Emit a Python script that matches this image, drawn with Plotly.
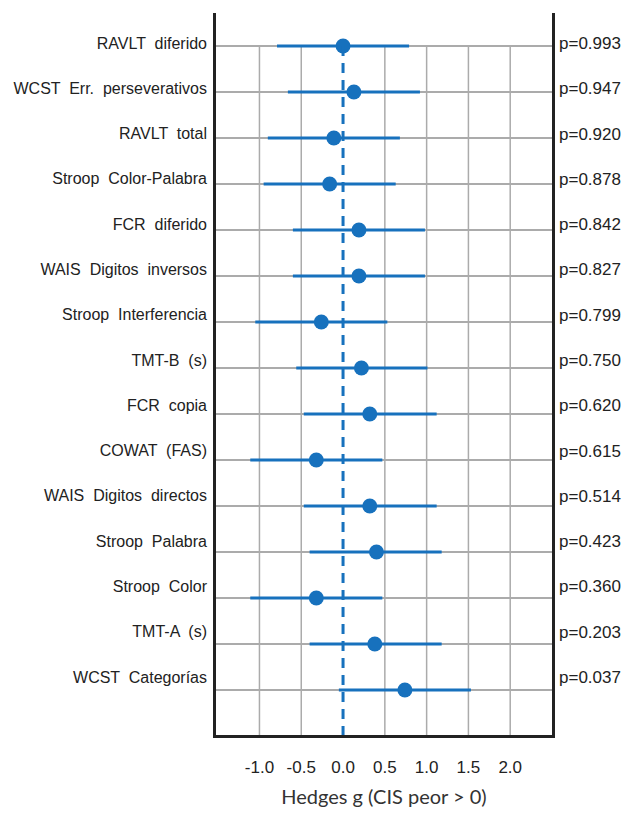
import plotly.graph_objects as go

# ---------------- data ----------------
tests = ["RAVLT  diferido", "WCST  Err.  perseverativos", "RAVLT  total",
         "Stroop  Color-Palabra", "FCR  diferido", "WAIS  Digitos  inversos",
         "Stroop  Interferencia", "TMT-B  (s)", "FCR  copia", "COWAT  (FAS)",
         "WAIS  Digitos  directos", "Stroop  Palabra", "Stroop  Color",
         "TMT-A  (s)", "WCST  Categorías"]
g_est = [0.00, 0.13, -0.11, -0.16, 0.19, 0.19, -0.26, 0.22, 0.32, -0.32,
         0.32, 0.40, -0.32, 0.38, 0.74]
ci_low = [-0.79, -0.66, -0.90, -0.95, -0.60, -0.60, -1.05, -0.56, -0.47, -1.11,
          -0.47, -0.40, -1.11, -0.40, -0.05]
ci_high = [0.79, 0.92, 0.68, 0.63, 0.98, 0.98, 0.53, 1.01, 1.12, 0.47,
           1.12, 1.18, 0.47, 1.18, 1.53]
p_vals = ["p=0.993", "p=0.947", "p=0.920", "p=0.878", "p=0.842", "p=0.827",
          "p=0.799", "p=0.750", "p=0.620", "p=0.615", "p=0.514", "p=0.423",
          "p=0.360", "p=0.203", "p=0.037"]
x_ticks = [-1.0, -0.5, 0.0, 0.5, 1.0, 1.5, 2.0]
x_ticktext = ["-1.0", "-0.5", "0.0", "0.5", "1.0", "1.5", "2.0"]

# ---------------- styles ----------------
BLUE = "#1771bd"
GRID = "#ababab"
SPINE = "#222222"
TXT = "Liberation Sans, Arial, sans-serif"

rows = list(range(len(tests)))
X_RANGE = [-1.52, 2.50]
Y_RANGE = [14.98, -0.718]       # main axis (marks + grid)
Y_LAB_RANGE = [15.28, -0.662]   # label axes

err_plus = [h - e for h, e in zip(ci_high, g_est)]
err_minus = [e - l for e, l in zip(g_est, ci_low)]

fig = go.Figure()

fig.add_trace(go.Scatter(
    x=g_est, y=rows, mode="markers",
    marker=dict(size=15, color=BLUE),
    error_x=dict(type="data", array=err_plus, arrayminus=err_minus,
                 color=BLUE, thickness=3, width=0),
    showlegend=False, hoverinfo="skip",
))

# invisible traces to anchor label axes
fig.add_trace(go.Scatter(x=[None] * len(rows), y=rows, yaxis="y2",
                         mode="markers", showlegend=False, hoverinfo="skip"))
fig.add_trace(go.Scatter(x=[None] * len(rows), y=rows, yaxis="y3",
                         mode="markers", showlegend=False, hoverinfo="skip"))

shapes = []
for xv in x_ticks:
    if xv == 0.0:
        continue
    shapes.append(dict(type="line", xref="x", yref="y", x0=xv, x1=xv,
                       y0=rows[0], y1=Y_RANGE[0], layer="below",
                       line=dict(color=GRID, width=1.5)))
# dashed zero line
shapes.append(dict(type="line", xref="x", yref="y", x0=0, x1=0,
                   y0=rows[0], y1=Y_RANGE[0], layer="above",
                   line=dict(color=BLUE, width=3, dash="10px,7px")))

fig.update_layout(
    width=616, height=800,
    margin=dict(l=208, r=72, t=5, b=73),
    paper_bgcolor="white", plot_bgcolor="white",
    shapes=shapes,
    xaxis=dict(range=X_RANGE, tickmode="array", tickvals=x_ticks,
               ticktext=x_ticktext, showgrid=False, zeroline=False,
               showline=True, linecolor=SPINE, linewidth=3, mirror=False,
               ticks="", ticklabelstandoff=15, tickangle=0, automargin=False,
               tickfont=dict(family=TXT, size=17, color="#222"),
               title=dict(text="Hedges g (CIS peor > 0)", standoff=23,
                          font=dict(family="Lato, Open Sans, sans-serif",
                                    size=20, color="#333"))),
    yaxis=dict(range=Y_RANGE, tickmode="array", tickvals=rows,
               showticklabels=False, showgrid=True, gridcolor=GRID,
               gridwidth=1.5, zeroline=False, showline=True,
               linecolor=SPINE, linewidth=3, mirror=True, ticks="",
               automargin=False),
    yaxis2=dict(range=Y_LAB_RANGE, overlaying="y", side="left",
                tickmode="array", tickvals=rows, ticktext=tests,
                showgrid=False, zeroline=False, showline=False, ticks="",
                ticklabelstandoff=8, automargin=False,
                tickfont=dict(family=TXT, size=16, color="#222")),
    yaxis3=dict(range=Y_LAB_RANGE, overlaying="y", side="right",
                tickmode="array", tickvals=rows, ticktext=p_vals,
                showgrid=False, zeroline=False, showline=False, ticks="",
                ticklabelstandoff=6, automargin=False,
                tickfont=dict(family=TXT, size=17, color="#222")),
)

fig.write_html("out.html")
